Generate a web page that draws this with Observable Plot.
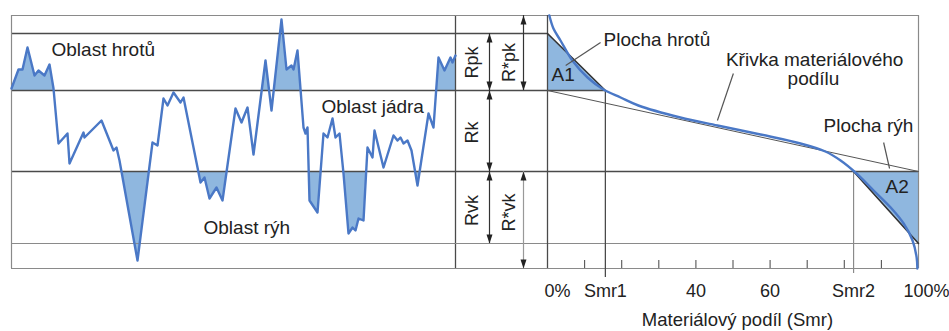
<!DOCTYPE html>
<html><head><meta charset="utf-8">
<script src="https://cdn.jsdelivr.net/npm/d3@7"></script>
<script src="https://cdn.jsdelivr.net/npm/@observablehq/plot@0.6"></script>
<style>
body{margin:0;background:#fff;}
#chart{position:relative;width:949px;height:331px;overflow:hidden;font-family:"Liberation Sans",Arial,Helvetica,sans-serif;}
#chart svg{position:absolute;top:0;}
</style></head><body><div id="chart"></div>
<script>
// ---------- data ----------
// roughness profile (position along sample, height)
const profileX = [0,7,11,16,23,27,33,38,42,47,56,58,72,73,90,102,105,108,126,141,146,152,156,162,169,172,189,193,198,205,211,224,230,236,242,254,260,270,275,280,282,286,292,294,296,298,306,312,316,321,324,328,332,337,341,344,347,352,356,361,363,372,382,386,389,392,396,400,406,417,422,427,433,439,441,444];
const profileZ = [8.3,10.2,10.2,12.4,9.6,10.1,9.6,10.7,8.3,2.8,3.8,0.8,3.9,3.4,5.1,2.1,2.4,1.1,-8.9,2.9,2.6,7.3,6.6,7.9,6.9,7.4,-1.1,-0.6,-2.7,-1.6,-2.9,6.3,4.9,6.4,1.7,11.1,6.1,15.2,10.2,10.6,10.2,12.1,4.4,3.8,4.4,-2.9,-4.1,3.8,3.4,5.3,3.4,3.8,-0.2,-6.2,-5.6,-5.9,-4.7,-4.9,2.4,1.4,4.1,0.4,3.6,3.1,3.4,2.8,3.1,2.1,-1.4,5.8,4.4,11.4,10.1,11.4,10.9,11.6];
// height levels
const levelNames = ["R*pk top","Rpk top","core top","core bottom","Rvk bottom","R*vk bottom"];
const levelValues = [15.6, 13.8, 8.1, 0, -7.2, -9.7];
// material ratio (Abbott) curve
const curveSmr = [0.5,1.6,3.5,6.7,10.8,15.1,19.7,24.5,35.8,45.8,57.4,68.2,74.9,79.0,83.0,87.9,92.5,96.0,98.4,99.5,99.7];
const curveZ   = [15.6,14.3,13.1,11.1,9.4,8.2,7.4,6.6,5.4,4.6,3.7,2.8,2.0,1.1,-0.1,-1.9,-3.6,-5.2,-6.9,-8.6,-9.7];
const smr1 = 15.6, smr2 = 82.5;
const tickValues = [0, smr1, 40, 60, smr2, 100];
const tickLabels = ["0%", "Smr1", "40", "60", "Smr2", "100%"];
const minorTicks = [10, 20, 30, 40, 50, 60, 70, 80, 90];
const arrowCols = ["R", "R", "R", "R*", "R*"];
const arrowLabels = ["Rpk", "Rk", "Rvk", "R*pk", "R*vk"];
const arrowLabelZ = [10.9, 3.9, -3.9, 10.9, -4.1];
const regionLabels = ["Oblast hrotů", "Oblast jádra", "Oblast rýh"];
const regionX = [40, 310, 192];
const regionZ = [12.15, 6.45, -5.65];

// ---------- styles ----------
const lineBlue = "#4a78c6", fillBlue = "#8fb7df";
const dark = "#4a4a4a", mid = "#8a8a8a", txt = "#222";
const font = '"Liberation Sans",Arial,Helvetica,sans-serif';
const [rsTop, rpkTop, coreTop, coreBot, rvkBot, rsBot] = levelValues;
const yCfg = {domain: [rsBot, rsTop], range: [268, 15], axis: null};
const baseStyle = {background: "transparent", overflow: "visible", fontFamily: font};

const profile = profileX.map((x, i) => ({x, z: profileZ[i]}));
const curve = curveSmr.map((x, i) => ({x, z: curveZ[i]}));
const chart = document.getElementById("chart");

// ---------- panel 1: profile ----------
const plotA = Plot.plot({
  width: 455, height: 331, marginLeft: 11, marginRight: 0, marginTop: 0, marginBottom: 0,
  x: {domain: [0, 444], range: [11, 455], axis: null},
  y: yCfg,
  style: {...baseStyle, left: "0px"},
  marks: [
    Plot.areaY(profile, {x: "x", y1: () => coreTop, y2: "z", fill: fillBlue}),
    Plot.areaY(profile, {x: "x", y1: () => coreBot, y2: "z", fill: fillBlue}),
    Plot.ruleY([rsTop, rvkBot, rsBot], {stroke: mid, strokeWidth: 1.2}),
    Plot.ruleY([rpkTop, coreTop, coreBot], {stroke: dark, strokeWidth: 1.3}),
    Plot.ruleX([0], {y1: rsBot, y2: rsTop, stroke: mid, strokeWidth: 1.2}),
    Plot.ruleX([444], {y1: rsBot, y2: rsTop, stroke: dark, strokeWidth: 1.3}),
    Plot.line(profile, {x: "x", y: "z", stroke: lineBlue, strokeWidth: 2.4, strokeLinejoin: "round"}),
    Plot.text(regionLabels, {x: (d, i) => regionX[i], y: (d, i) => regionZ[i], text: d => d, textAnchor: "start", fontSize: 19, fill: txt})
  ]
});
chart.appendChild(plotA);
{
  const svg = d3.select(plotA);
  const ys = plotA.scale("y");
  const defs = svg.insert("defs", ":first-child");
  defs.append("clipPath").attr("id", "clipPeak").append("rect")
    .attr("x", 0).attr("y", 0).attr("width", 455).attr("height", ys.apply(coreTop));
  defs.append("clipPath").attr("id", "clipValley").append("rect")
    .attr("x", 0).attr("y", ys.apply(coreBot)).attr("width", 455).attr("height", 331);
  const areas = svg.selectAll('g[aria-label="area"]').nodes();
  d3.select(areas[0]).attr("clip-path", "url(#clipPeak)");
  d3.select(areas[1]).attr("clip-path", "url(#clipValley)");
}

// ---------- panel 2: parameter arrows ----------
const arrowTop = [rpkTop, coreTop, coreBot, rsTop, coreBot];
const arrowBot = [coreTop, coreBot, rvkBot, coreTop, rsBot];
const arrows = arrowCols.map((c, i) => ({col: c, top: arrowTop[i], bot: arrowBot[i], label: arrowLabels[i], lz: arrowLabelZ[i]}));
const heads = arrows.flatMap(a => [{col: a.col, z: a.top, rot: 0}, {col: a.col, z: a.bot, rot: 180}]);
const plotB = Plot.plot({
  width: 92, height: 331, marginLeft: 0, marginRight: 0, marginTop: 0, marginBottom: 0,
  x: {type: "point", domain: ["R", "R*"], range: [34, 68], padding: 0, axis: null},
  y: yCfg,
  style: {...baseStyle, left: "455px"},
  marks: [
    Plot.ruleY([rsTop, rvkBot, rsBot], {stroke: mid, strokeWidth: 1.2}),
    Plot.ruleY([rpkTop, coreTop, coreBot], {stroke: dark, strokeWidth: 1.3}),
    Plot.ruleX(arrows, {x: "col", y1: "top", y2: "bot", stroke: (d, i) => i === 4 ? "#999" : "#333", strokeWidth: 1.2}),
    Plot.vector(heads, {x: "col", y: "z", rotate: "rot", length: 9, r: 3, shape: "spike", anchor: "end", fill: "#222", stroke: "none"}),
    Plot.text(arrows.filter(a => a.col === "R"), {x: "col", y: "lz", text: "label", rotate: -90, dx: -17, fontSize: 18, fill: txt}),
    Plot.text(arrows.filter(a => a.col === "R*"), {x: "col", y: "lz", text: "label", rotate: -90, dx: -14, fontSize: 18, fill: txt})
  ]
});
chart.appendChild(plotB);

// ---------- panel 3: material ratio curve ----------
const a1 = [{x: 0, z: rpkTop}, {x: smr1, z: coreTop}];
const a2 = [{x: smr2, z: coreBot}, {x: 100, z: rvkBot}];
const equiv = [{x: 0, z: coreTop}, {x: 100, z: coreBot}];
const leaders = [
  {x1: 14.3, y1: 12.9, x2: 4.9, y2: 10.6},
  {x1: 50.1, y1: 9.8, x2: 45.8, y2: 5.1},
  {x1: 90.6, y1: 2.9, x2: 92.2, y2: 0.3}
];
const notes = [
  {x: 15.1, z: 13.2, t: "Plocha hrotů", a: "start"},
  {x: 72.0, z: 11.2, t: "Křivka materiálového", a: "middle"},
  {x: 71.7, z: 9.3, t: "podílu", a: "middle"},
  {x: 74.4, z: 4.6, t: "Plocha rýh", a: "start"},
  {x: 1.1, z: 9.65, t: "A1", a: "start"},
  {x: 91.1, z: -1.5, t: "A2", a: "start"}
];
const ticks = tickValues.map((v, i) => ({x: v, label: tickLabels[i]}));
const plotC = Plot.plot({
  width: 402, height: 331, marginLeft: 0, marginRight: 31, marginTop: 0, marginBottom: 0,
  x: {domain: [0, 100], range: [0, 371], axis: null},
  y: yCfg,
  style: {...baseStyle, left: "547px"},
  marks: [
    Plot.areaY(a1, {x: "x", y1: () => coreTop, y2: "z", fill: fillBlue}),
    Plot.areaY(a2, {x: "x", y1: () => coreBot, y2: "z", fill: fillBlue}),
    Plot.ruleY([rsTop], {x1: 0, x2: 100, stroke: mid, strokeWidth: 1.2}),
    Plot.ruleY([coreTop], {x1: 0, x2: smr1, stroke: dark, strokeWidth: 1.3}),
    Plot.ruleY([coreBot], {x1: 0, x2: 100, stroke: dark, strokeWidth: 1.3}),
    Plot.ruleY([rvkBot, rsBot], {x1: 0, x2: 100, stroke: mid, strokeWidth: 1.2}),
    Plot.ruleX([0], {y1: rsBot, y2: rsTop, stroke: dark, strokeWidth: 1.3}),
    Plot.ruleX([100], {y1: rsBot, y2: rsTop, stroke: mid, strokeWidth: 1.2}),
    Plot.ruleX([smr1], {y1: -10.6, y2: coreTop, stroke: dark, strokeWidth: 1.3}),
    Plot.ruleX([smr2], {y1: -10.2, y2: coreBot, stroke: mid, strokeWidth: 1.2}),
    Plot.ruleX(minorTicks, {y1: rsBot, y2: -8.9, stroke: "#555", strokeWidth: 1.1}),
    Plot.line(equiv, {x: "x", y: "z", stroke: "#555", strokeWidth: 1}),
    Plot.line(a1, {x: "x", y: "z", stroke: "#333", strokeWidth: 1.6}),
    Plot.line(a2, {x: "x", y: "z", stroke: "#333", strokeWidth: 1.6}),
    Plot.line(curve, {x: "x", y: "z", stroke: lineBlue, strokeWidth: 2.4, curve: "catmull-rom"}),
    Plot.link(leaders, {x1: "x1", y1: "y1", x2: "x2", y2: "y2", stroke: "#555", strokeWidth: 1.2}),
    Plot.text(notes, {x: "x", y: "z", text: "t", textAnchor: "start", filter: d => d.a === "start", fontSize: 19, fill: txt}),
    Plot.text(notes, {x: "x", y: "z", text: "t", textAnchor: "middle", filter: d => d.a === "middle", fontSize: 19, fill: txt}),
    Plot.text(ticks, {x: "x", y: () => -12.0, text: "label", fontSize: 18, fill: txt}),
    Plot.text(["Materiálový podíl (Smr)"], {x: () => 51.2, y: () => -14.85, text: d => d, fontSize: 18.5, fill: txt})
  ]
});
chart.appendChild(plotC);
// nudge the % labels (their digit is centred on the tick)
d3.select(plotC).selectAll("text").filter(function() { const t = this.textContent; return t === "0%" || t === "100%"; })
  .attr("dx", function() { return this.textContent === "0%" ? 10 : 8; });
</script></body></html>
